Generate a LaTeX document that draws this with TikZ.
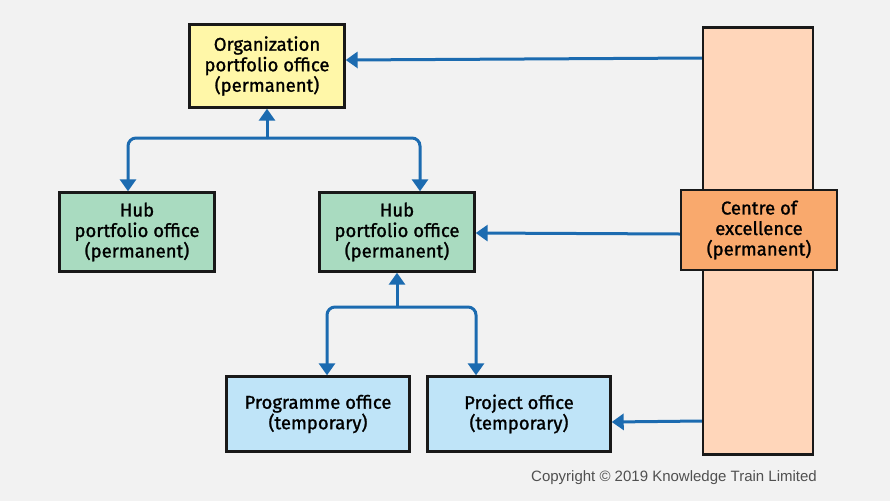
\documentclass[tikz,border=0pt]{standalone}
\usepackage{fontspec}
\setmainfont{Fira Sans}
\newfontfamily\boxfont{Fira Sans}[FakeBold=1.2]
\newfontfamily\copyfont{Liberation Sans}
\usetikzlibrary{arrows.meta}
\definecolor{bgc}{HTML}{F2F2F2}
\definecolor{orgc}{HTML}{FFF7A8}
\definecolor{hubc}{HTML}{A9DBC0}
\definecolor{coec}{HTML}{F9A96D}
\definecolor{pilc}{HTML}{FFD6BA}
\definecolor{tmpc}{HTML}{BFE4F8}
\definecolor{arrc}{HTML}{1C6BB0}
\definecolor{txtc}{HTML}{505050}
\tikzset{
  box/.style={draw=black!90, line width=2.4pt, align=center, inner sep=0pt,
    font=\boxfont\fontsize{18.5}{20.5}\selectfont, text=black},
  arr/.style={draw=arrc, line width=3pt, -{Triangle[width=16pt,length=12pt]}}
}
\begin{document}
\begin{tikzpicture}[x=1pt,y=-1pt]
\fill[bgc] (0,0) rectangle (890,501);
\useasboundingbox (0,0) rectangle (890,501);
% pillar
\node[box, fill=pilc, minimum width=110pt, minimum height=427pt] (pil) at (758,241) {};
\node[box, fill=coec, minimum width=156pt, minimum height=80pt] (coe) at (759,230) {Centre of\\excellence\\(permanent)};
\node[box, fill=orgc, minimum width=155pt, minimum height=83pt] (org) at (267,66) {Organization\\portfolio office\\(permanent)};
\node[box, fill=hubc, minimum width=155pt, minimum height=79pt] (hubL) at (137,232) {Hub\\portfolio office\\(permanent)};
\node[box, fill=hubc, minimum width=155pt, minimum height=79pt] (hubM) at (397,232) {Hub\\portfolio office\\(permanent)};
\node[box, fill=tmpc, minimum width=183pt, minimum height=75pt] (prog) at (318,414) {Programme office\\(temporary)};
\node[box, fill=tmpc, minimum width=183pt, minimum height=75pt] (proj) at (519,414) {Project office\\(temporary)};
% tree 1
\coordinate (j1) at (267,138);
\draw[arr] (j1) -- (org.south);
\draw[arr, rounded corners=8pt] (j1) -| ([xshift=-9pt]hubL.north);
\draw[arr, rounded corners=8pt] (j1) -| ([xshift=23pt]hubM.north);
% tree 2
\coordinate (j2) at (397,307);
\draw[arr] (j2) -- (hubM.south);
\draw[arr, rounded corners=8pt] (j2) -| ([xshift=9pt]prog.north);
\draw[arr, rounded corners=8pt] (j2) -| ([xshift=-43pt]proj.north);
% side arrows
\draw[arr] ([yshift=8pt]org.east -| pil.west) -- ([yshift=6pt]org.east);
\draw[arr] ([yshift=-4pt]coe.west) -- ([yshift=-1pt]hubM.east);
\draw[arr] ([yshift=-7pt]proj.east -| pil.west) -- ([yshift=-8pt]proj.east);
\node[font=\copyfont\fontsize{15}{17}\selectfont, text=txtc] (copy) at (674,478) {Copyright © 2019 Knowledge Train Limited};
\end{tikzpicture}
\end{document}
